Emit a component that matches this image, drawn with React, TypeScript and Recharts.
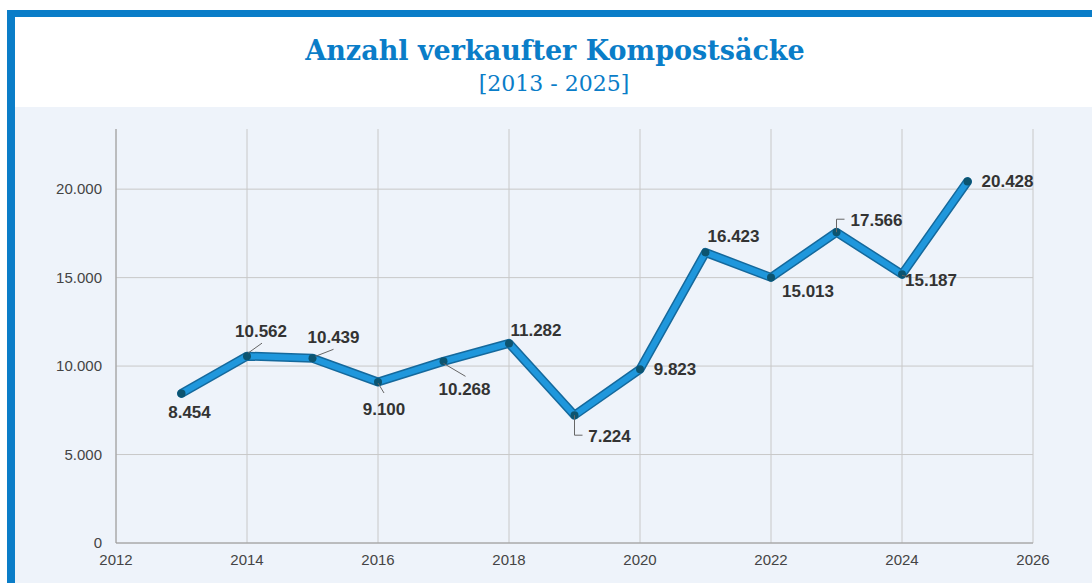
import React from 'react';
import { LineChart, Line, XAxis, YAxis, CartesianGrid, LabelList } from 'recharts';

const years = [2013, 2014, 2015, 2016, 2017, 2018, 2019, 2020, 2021, 2022, 2023, 2024, 2025];
const sold = [8454, 10562, 10439, 9100, 10268, 11282, 7224, 9823, 16423, 15013, 17566, 15187, 20428];
const xTicks = [2012, 2014, 2016, 2018, 2020, 2022, 2024, 2026];
const yTicks = [0, 5000, 10000, 15000, 20000];

const title = 'Anzahl verkaufter Kompostsäcke';
const subtitle = '[2013 - 2025]';

// label placement relative to its point (style only)
const labelOffsets: [number, number][] = [
  [8, 19], [14, -25], [21, -21], [6, 27], [21, 28], [27, -13], [35, 21],
  [35, 0], [28, -16], [37, 14], [40, -12], [29, 6], [40, 0],
];
const leaders: ([number, number][] | null)[] = [
  null,
  [[1, -3], [15, -13]],
  [[3, -2], [21, -9]],
  [[0, 1], [6, 11]],
  [[0, 2], [22, 15]],
  null,
  [[0, 0], [0, 20], [8, 20]],
  null,
  null,
  null,
  [[0, 0], [0, -13], [8, -13]],
  [[0, 1], [8, 3]],
  null,
];

const data = years.map((year, i) => ({ year, value: sold[i] }));

const fmt = (v: number) => String(v).replace(/\B(?=(\d{3})+(?!\d))/g, '.');

const BLUE = '#0a7dc8';

const renderLabel = (props: any) => {
  const { x, y, index, value } = props;
  if (x == null || y == null) return null;
  const [dx, dy] = labelOffsets[index] || [0, -15];
  const ld = leaders[index];
  return (
    <g>
      {ld && (
        <polyline
          points={ld.map(([a, b]) => `${x + a},${y + b}`).join(' ')}
          fill="none"
          stroke="#666"
          strokeWidth={1}
        />
      )}
      <text
        x={x + dx}
        y={y + dy}
        textAnchor="middle"
        dominantBaseline="central"
        fontFamily="'Liberation Sans', Arial, sans-serif"
        fontWeight="bold"
        fontSize={17}
        fill="#333"
      >
        {fmt(Number(value))}
      </text>
    </g>
  );
};

const renderDot = (props: any) => {
  const { cx, cy, index } = props;
  if (cx == null || cy == null) return <g key={`d${index}`} />;
  return <circle key={`d${index}`} cx={cx} cy={cy} r={4} fill="#0c5470" />;
};

export default function App() {
  return (
    <div
      style={{
        position: 'absolute',
        left: 0,
        top: 0,
        width: 1092,
        height: 583,
        background: '#fff',
        overflow: 'hidden',
      }}
    >
      <div style={{ position: 'absolute', left: 15, top: 107, width: 1077, height: 476, background: '#eef3fa' }} />
      <div style={{ position: 'absolute', left: 7, top: 10, width: 1085, height: 7, background: BLUE }} />
      <div style={{ position: 'absolute', left: 7, top: 10, width: 8, height: 573, background: BLUE }} />
      <svg style={{ position: 'absolute', left: 0, top: 0 }} width={1092} height={107}>
        <text
          x={555}
          y={60}
          textAnchor="middle"
          fontFamily="'DejaVu Serif', serif"
          fontWeight="bold"
          fontSize={27}
          fill={BLUE}
        >
          {title}
        </text>
        <text x={554} y={91} textAnchor="middle" fontFamily="'DejaVu Serif', serif" fontSize={22} fill={BLUE}>
          {subtitle}
        </text>
      </svg>
      <div style={{ position: 'absolute', left: 15, top: 107 }}>
        <LineChart width={1077} height={476} data={data} margin={{ top: 22, right: 59, left: 41, bottom: 10 }}>
          <CartesianGrid
            stroke="#c8c8c8"
            strokeWidth={1}
            horizontalValues={yTicks}
            verticalValues={xTicks}
          />
          <XAxis
            type="number"
            dataKey="year"
            domain={[2012, 2026]}
            ticks={xTicks}
            allowDecimals={false}
            tickLine={false}
            axisLine={{ stroke: '#9a9a9a' }}
            tickMargin={5}
            height={30}
            tick={{ fill: '#444', fontSize: 15, fontFamily: "'Liberation Sans', Arial, sans-serif" }}
          />
          <YAxis
            type="number"
            domain={[0, 23400]}
            ticks={yTicks}
            allowDataOverflow
            tickLine={false}
            axisLine={{ stroke: '#9a9a9a' }}
            tickMargin={8}
            width={60}
            tickFormatter={(v: number) => fmt(v)}
            tick={{ fill: '#444', fontSize: 15, fontFamily: "'Liberation Sans', Arial, sans-serif" }}
          />
          <Line
            dataKey="value"
            stroke="#15699c"
            strokeWidth={9}
            strokeLinecap="round"
            strokeLinejoin="round"
            dot={false}
            activeDot={false}
            isAnimationActive={false}
          />
          <Line
            dataKey="value"
            stroke="#1f97dc"
            strokeWidth={6}
            strokeLinecap="round"
            strokeLinejoin="round"
            dot={renderDot}
            activeDot={false}
            isAnimationActive={false}
          >
            <LabelList dataKey="value" content={renderLabel} />
          </Line>
        </LineChart>
      </div>
    </div>
  );
}
